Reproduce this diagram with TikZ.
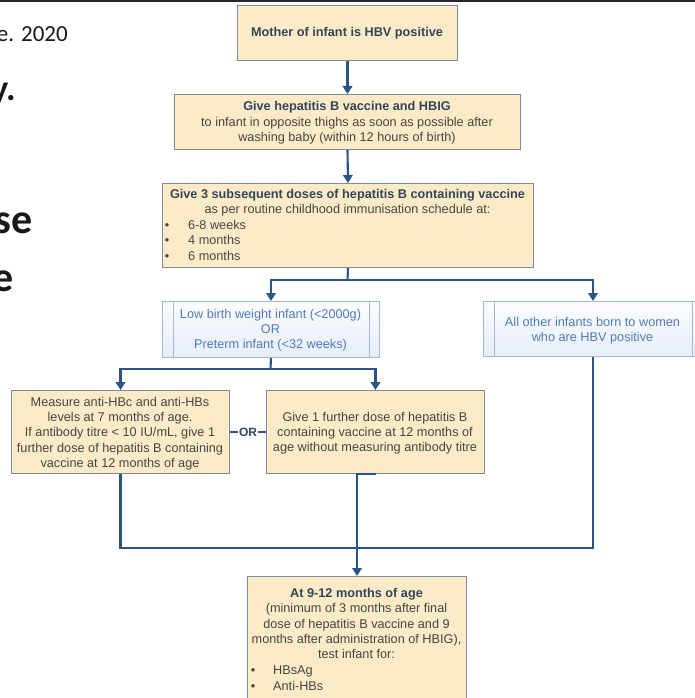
\documentclass[tikz,border=0pt]{standalone}
\usepackage{fontspec}
\setmainfont{Liberation Sans}
\newfontfamily\slidefont{Carlito}
\usetikzlibrary{arrows.meta}
\definecolor{boxfill}{HTML}{FCEBC6}
\definecolor{boxedge}{HTML}{7A8CA3}
\definecolor{conn}{HTML}{2B5383}
\definecolor{headtxt}{HTML}{31465C}
\definecolor{bodytxt}{HTML}{454545}
\definecolor{bluetop}{HTML}{FBFCFE}
\definecolor{bluebot}{HTML}{E7EEF8}
\definecolor{blueedge}{HTML}{A3B9D6}
\definecolor{bluetxt}{HTML}{4F7CB8}
\begin{document}
\begin{tikzpicture}[x=1pt,y=-1pt,
  ybox/.style={draw=boxedge, fill=boxfill, line width=1pt, inner sep=0pt, anchor=north west},
  bbox/.style={draw=blueedge, top color=bluetop, bottom color=bluebot, line width=1pt, inner sep=0pt, anchor=north west},
  txt/.style={font=\fontsize{12.7}{15}\selectfont, text=bodytxt, inner sep=0pt, anchor=base},
  htxt/.style={font=\fontsize{12.7}{15}\selectfont\bfseries, text=headtxt, inner sep=0pt, anchor=base},
  btxt/.style={font=\fontsize{12.7}{15}\selectfont, text=bluetxt, inner sep=0pt, anchor=base},
  ltxt/.style={txt, anchor=base west},
  line/.style={draw=conn, line width=2.1pt},
  arr/.style={line, -{Triangle[length=8pt,width=9.5pt]}},
  slide/.style={inner sep=0pt, anchor=base east, text=black!90}
]
\useasboundingbox (0,0) rectangle (695,698);
\clip (0,0) rectangle (695,698);
\fill[white] (0,0) rectangle (695,698);
\fill[black!85] (0,0) rectangle (695,2.5);

% slide fragments
\node[slide, font=\slidefont\fontsize{23}{27}\selectfont] (s1) at (68,42) {e. 2020};
\node[slide, font=\slidefont\fontsize{36}{40}\selectfont\bfseries] (s2) at (16,101) {y.};
\node[slide, font=\slidefont\fontsize{42}{48}\selectfont\bfseries] (s3) at (33,233) {se};
\node[slide, font=\slidefont\fontsize{42}{48}\selectfont\bfseries] (s4) at (14,291) {e};

% boxes
\node[ybox, minimum width=220pt, minimum height=55pt] (b1) at (237,5) {};
\node[ybox, minimum width=346pt, minimum height=55pt] (b2) at (174,94) {};
\node[ybox, minimum width=371pt, minimum height=84pt] (b3) at (162,183) {};
\node[bbox, minimum width=217pt, minimum height=56pt] (lbw) at (162,301) {};
\node[bbox, minimum width=219pt, minimum height=55pt] (oth) at (483,301) {};
\node[ybox, minimum width=218pt, minimum height=83pt] (lm) at (11,390) {};
\node[ybox, minimum width=218pt, minimum height=83pt] (rm) at (266,390) {};
\node[ybox, minimum width=219pt, minimum height=140pt] (b4) at (247,576) {};

% side bars of blue boxes
\draw[blueedge, line width=1pt] ([xshift=11pt]lbw.north west) -- ([xshift=11pt]lbw.south west);
\draw[blueedge, line width=1pt] ([xshift=-11pt]lbw.north east) -- ([xshift=-11pt]lbw.south east);
\draw[blueedge, line width=1pt] ([xshift=11pt]oth.north west) -- ([xshift=11pt]oth.south west);
\draw[blueedge, line width=1pt] ([xshift=-11pt]oth.north east) -- ([xshift=-11pt]oth.south east);

% texts
\node[htxt] (t1) at (347,36.5) {Mother of infant is HBV positive};

\node[htxt] (t2a) at (347,110.5) {Give hepatitis B vaccine and HBIG};
\node[txt] (t2b) at (347,126.5) {to infant in opposite thighs as soon as possible after};
\node[txt] (t2c) at (347,141.5) {washing baby (within 12 hours of birth)};

\node[htxt] (t3a) at (347.5,198.5) {Give 3 subsequent doses of hepatitis B containing vaccine};
\node[txt] (t3b) at (347.5,213.5) {as per routine childhood immunisation schedule at:};
\node[txt] (t3c) at (167,229.5) {•};
\node[ltxt] (t3d) at (188,229.5) {6-8 weeks};
\node[txt] (t3e) at (167,244.5) {•};
\node[ltxt] (t3f) at (188,244.5) {4 months};
\node[txt] (t3g) at (167,260.5) {•};
\node[ltxt] (t3h) at (188,260.5) {6 months};

\node[btxt] (tl1) at (270.5,318.5) {Low birth weight infant (<2000g)};
\node[btxt] (tl2) at (270.5,333.5) {OR};
\node[btxt] (tl3) at (270.5,348.5) {Preterm infant (<32 weeks)};

\node[btxt] (to1) at (592.5,326.5) {All other infants born to women};
\node[btxt] (to2) at (592.5,341.5) {who are HBV positive};

\node[txt] (tm1) at (120,406.5) {Measure anti-HBc and anti-HBs};
\node[txt] (tm2) at (120,421.5) {levels at 7 months of age.};
\node[txt] (tm3) at (120,436.5) {If antibody titre < 10 IU/mL, give 1};
\node[txt] (tm4) at (120,452.5) {further dose of hepatitis B containing};
\node[txt] (tm5) at (120,467.5) {vaccine at 12 months of age};

\node[txt] (tr1) at (375,421.5) {Give 1 further dose of hepatitis B};
\node[txt] (tr2) at (375,436.5) {containing vaccine at 12 months of};
\node[txt] (tr3) at (375,451.5) {age without measuring antibody titre};

\node[htxt] (t4a) at (356.5,597.5) {At 9-12 months of age};
\node[txt] (t4b) at (356.5,612.5) {(minimum of 3 months after final};
\node[txt] (t4c) at (356.5,628.5) {dose of hepatitis B vaccine and 9};
\node[txt] (t4d) at (356.5,643.5) {months after administration of HBIG),};
\node[txt] (t4e) at (356.5,658.5) {test infant for:};
\node[txt] (t4f) at (253,674.5) {•};
\node[ltxt] (t4g) at (273,674.5) {HBsAg};
\node[txt] (t4h) at (253,690.5) {•};
\node[ltxt] (t4i) at (273,690.5) {Anti-HBs};

% connectors
\coordinate (f1) at (347.5,280);
\coordinate (f2) at (270.5,369);
\coordinate (j) at (356.5,548);
\draw[arr] (b1.south) -- (b2.north);
\draw[arr] (b2.south) -- (b3.north);
\draw[line] (b3.south) -- (f1);
\draw[arr] (f1) -| (lbw.north);
\draw[arr] (f1) -| (oth.north);
\draw[line] (lbw.south) -- (f2);
\draw[arr] (f2) -| (lm.north);
\draw[arr] (f2) -| (rm.north);
\draw[line] (lm.east) -- node[fill=white, inner sep=0.6pt, text=headtxt, font=\fontsize{12}{14}\selectfont\bfseries] (orl) {OR} (rm.west);
\draw[line] (lm.south) -- (lm.south |- j) -- (oth.south |- j) -- (oth.south);
\draw[arr] (rm.south) -- (rm.south -| b4.north) -- (b4.north);
\end{tikzpicture}
\end{document}
